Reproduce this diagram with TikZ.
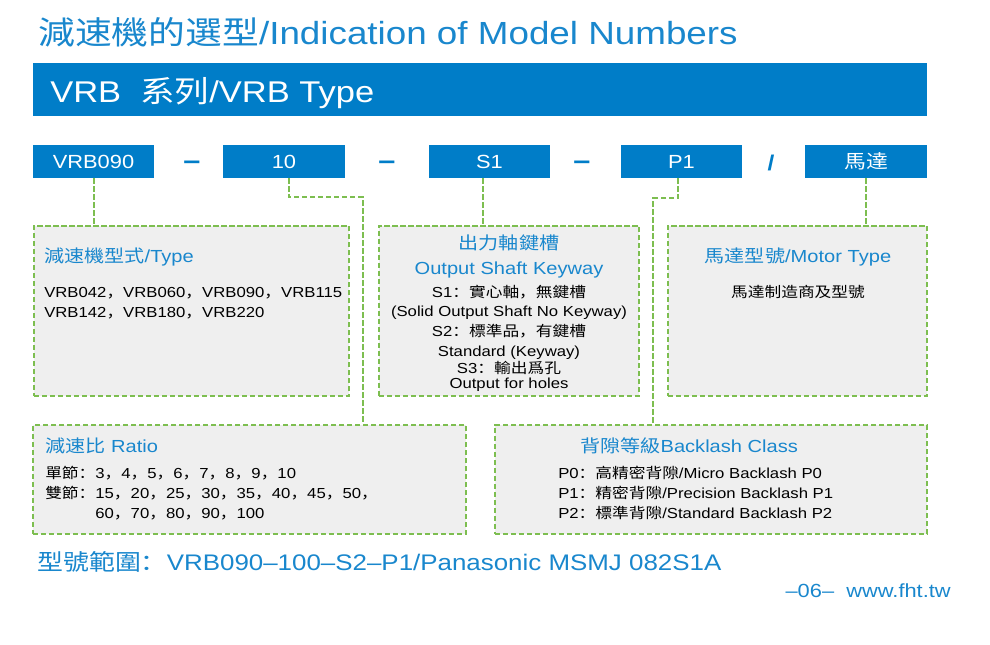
\documentclass[tikz,border=0pt]{standalone}
\usepackage{fontspec}
\setmainfont{Liberation Sans}[FakeStretch=1.15]
\newfontfamily\zh{Noto Sans CJK SC}[FakeStretch=1.15]
\newcommand{\zc}{{\zh ，}}
\definecolor{fhtblue}{RGB}{0,125,200}
\definecolor{fhttext}{RGB}{25,135,205}
\definecolor{fhtgreen}{RGB}{125,190,80}
\definecolor{fhtgray}{RGB}{239,239,239}
\begin{document}
\begin{tikzpicture}[x=0.75pt, y=-0.75pt,
    code/.style={fill=fhtblue, text=white, font=\fontsize{14.25}{16}\selectfont, minimum width=91.1pt, minimum height=24.75pt, inner sep=0},
    info/.style 2 args={draw=fhtgreen, fill=fhtgray, line width=1.5pt, dash pattern=on 4pt off 2pt, minimum width=#1*0.75pt, minimum height=#2*0.75pt, inner sep=0},
    link/.style={draw=fhtgreen, line width=1.5pt, dash pattern=on 4pt off 2pt},
    head/.style={text=fhttext, font=\fontsize{13.1}{15}\selectfont, inner sep=0},
    body/.style={font=\fontsize{10.9}{15}\selectfont, inner sep=0},
    sep/.style={text=fhtblue, inner sep=0, anchor=base}]
    \useasboundingbox (0,0) rectangle (990,644);
    % title and banner
    \node[text=fhttext, font=\fontsize{24}{28}\selectfont, inner sep=0, anchor=base west] (title) at (38,44) {{\zh 減速機的選型}/Indication of Model Numbers};
    \node[fill=fhtblue, minimum width=894*0.75pt, minimum height=53*0.75pt, inner sep=0] (banner) at (480,89.5) {};
    \node[text=white, font=\fontsize{22.5}{26}\selectfont, inner sep=0, anchor=base west] (series) at (50,102) {VRB\ \ {\zh 系列}/VRB Type};
    % model code
    \node[code] (model) at (93.5,161.5) {VRB090};
    \node[code] (ratio) at (284,161.5) {10};
    \node[code] (shaft) at (489.5,161.5) {S1};
    \node[code] (backlash) at (681.5,161.5) {P1};
    \node[code] (motor) at (866,161.5) {{\zh 馬達}};
    \foreach \x [count=\i] in {192,387,582}
        \node[sep, font=\fontsize{20}{24}\selectfont\bfseries] (dash\i) at (\x,169) {–};
    \node[sep, font=\fontsize{16}{18}\selectfont\bfseries] (slash) at (771,170) {/};
    % boxes
    \node[info={315}{170.5}] (typebox) at (191.5,310.75) {};
    \node[info={260}{170.5}] (shaftbox) at (509,310.75) {};
    \node[info={259}{170.5}] (motorbox) at (797.5,310.75) {};
    \node[info={433}{109}] (ratiobox) at (249.5,479.5) {};
    \node[info={432}{109}] (backbox) at (711,479.5) {};
    % links
    \draw[link] (model.south) -- (model.south |- typebox.north);
    \draw[link] ([xshift=3.75pt]ratio.south) -- ++(0,19) -| ([xshift=85.1pt]ratiobox.north);
    \draw[link] ([xshift=-5.25pt]shaft.south) -- ([xshift=-5.25pt]shaft.south |- shaftbox.north);
    \draw[link] ([xshift=-2.6pt]backlash.south) -- ++(0,20) -| ([xshift=-43.5pt]backbox.north);
    \draw[link] (motor.south) -- (motor.south |- motorbox.north);
    % type
    \node[head, anchor=base west] (typehead) at (44,262) {{\zh 減速機型式}/Type};
    \foreach \y/\t in {297/VRB042\zc VRB060\zc VRB090\zc VRB115, 317/VRB142\zc VRB180\zc VRB220}
        \node[body, anchor=base west] at (44,\y) {\t};
    % shaft
    \foreach \y/\t in {249/{\zh 出力軸鍵槽}, 274/Output Shaft Keyway}
        \node[head, anchor=base] at (509,\y) {\t};
    \foreach \y/\t in {297/S1{\zh ：實心軸，無鍵槽}, 316/(Solid Output Shaft No Keyway), 336/S2{\zh ：標準品，有鍵槽}, 356/Standard (Keyway), 373/S3{\zh ：輸出爲孔}, 388/Output for holes}
        \node[body, anchor=base] at (509,\y) {\t};
    % motor
    \node[head, anchor=base] (motorhead) at (798,262) {{\zh 馬達型號}/Motor Type};
    \node[body, anchor=base] (motortext) at (798,297) {{\zh 馬達制造商及型號}};
    % ratio
    \node[head, anchor=base west] (ratiohead) at (45,452) {{\zh 減速比} Ratio};
    \foreach \y/\t in {478/{\zh 單節：}3\zc 4\zc 5\zc 6\zc 7\zc 8\zc 9\zc 10, 498/{\zh 雙節：}15\zc 20\zc 25\zc 30\zc 35\zc 40\zc 45\zc 50\zc, 518/{\zh\phantom{雙節：}}60\zc 70\zc 80\zc 90\zc 100}
        \node[body, anchor=base west] at (45,\y) {\t};
    % backlash
    \node[head, anchor=base west] (backhead) at (580,452) {{\zh 背隙等級}Backlash Class};
    \node[body, anchor=base west] (p0) at (558,478) {P0{\zh ：高精密背隙}/Micro Backlash P0};
    \node[body, anchor=base west] (p1) at (558,498) {P1{\zh ：精密背隙}/Precision Backlash P1};
    \node[body, anchor=base west] (p2) at (558,518) {P2{\zh ：標準背隙}/Standard Backlash P2};
    % range and page
    \node[text=fhttext, font=\fontsize{16.9}{20}\selectfont, inner sep=0, anchor=base west] (range) at (37,570) {{\zh 型號範圍：}VRB090–100–S2–P1/Panasonic MSMJ 082S1A};
    \node[text=fhttext, font=\fontsize{14.25}{16}\selectfont, inner sep=0, anchor=base east] (page) at (951,597) {–06–\ \ www.fht.tw};
\end{tikzpicture}
\end{document}
